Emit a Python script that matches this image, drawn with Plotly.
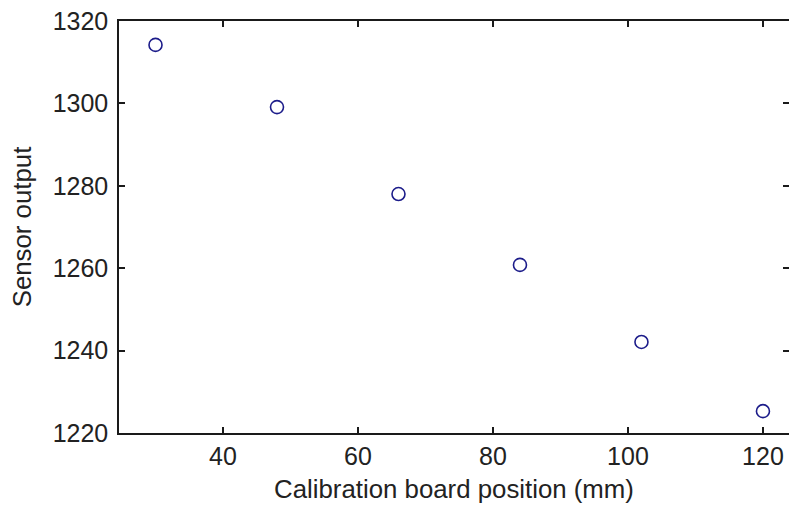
import plotly.graph_objects as go

# Calibration measurements
board_position_mm = [30, 48, 66, 84, 102, 120]
sensor_output = [1314.2, 1299.1, 1278.0, 1260.8, 1242.1, 1225.3]

x_ticks = [40, 60, 80, 100, 120]
y_ticks = [1220, 1240, 1260, 1280, 1300, 1320]

axis_color = "#1a1a1a"
font = dict(family="Liberation Sans, Arial, sans-serif", size=25, color="#222222")
title_font = dict(family="Liberation Sans, Arial, sans-serif", size=25.8, color="#222222")

fig = go.Figure()
fig.add_trace(go.Scatter(
    x=board_position_mm, y=sensor_output, mode="markers",
    marker=dict(symbol="circle-open", size=13, color="#1c1c8a", line=dict(width=1.6)),
    showlegend=False, hoverinfo="x+y",
))
# invisible copy on the right-hand axis so its inward ticks are drawn
fig.add_trace(go.Scatter(
    x=board_position_mm, y=sensor_output, mode="markers", yaxis="y2",
    marker=dict(opacity=0), showlegend=False, hoverinfo="skip",
))

fig.update_layout(
    width=789, height=506,
    margin=dict(l=119, r=0, t=21, b=73),
    paper_bgcolor="white", plot_bgcolor="white",
    font=font,
    xaxis=dict(
        range=[24.59, 123.86], tickvals=x_ticks, ticktext=[str(v) for v in x_ticks],
        ticks="inside", ticklen=6, tickwidth=1.5, tickcolor=axis_color,
        showline=True, linecolor=axis_color, linewidth=1.5, mirror="ticks",
        showgrid=False, zeroline=False, ticklabelstandoff=0,
        title=dict(text="Calibration board position (mm)", font=title_font, standoff=11),
        automargin=False,
    ),
    yaxis=dict(
        range=[1220, 1320], tickvals=y_ticks, ticktext=[str(v) for v in y_ticks],
        ticks="inside", ticklen=6, tickwidth=1.5, tickcolor=axis_color,
        showline=True, linecolor=axis_color, linewidth=1.5,
        showgrid=False, zeroline=False, ticklabelstandoff=4,
        title=dict(text="Sensor output", font=title_font, standoff=14),
        automargin=False,
    ),
    yaxis2=dict(
        overlaying="y", side="right", matches="y",
        tickvals=y_ticks, ticks="inside", ticklen=6, tickwidth=1.5, tickcolor=axis_color,
        showticklabels=False, showline=False, showgrid=False, zeroline=False,
    ),
)

fig.write_html("out.html")
